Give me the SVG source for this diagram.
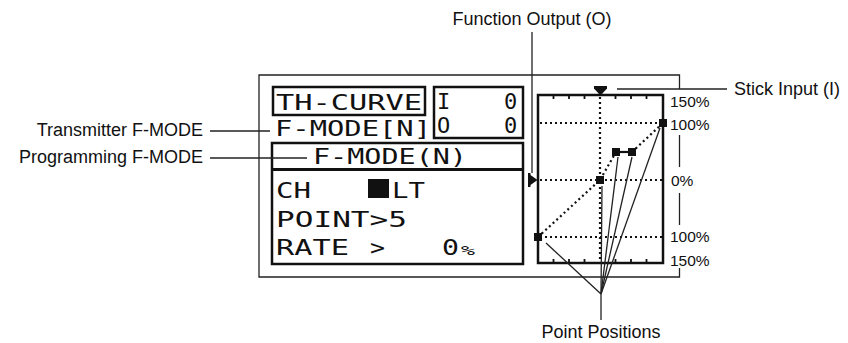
<svg xmlns="http://www.w3.org/2000/svg" width="848" height="343" viewBox="0 0 848 343">
<style>
.lbl{font-family:"Liberation Sans",Arial,sans-serif;font-size:18px;fill:#111}
.pct{font-family:"Liberation Sans",Arial,sans-serif;font-size:15.5px;fill:#111}
.lcd{font-family:"DejaVu Sans Mono","Liberation Mono",monospace;font-size:22px;fill:#111}
.box{fill:none;stroke:#111;stroke-width:2.5}
.thin{fill:none;stroke:#222;stroke-width:1.3}
.dot{fill:none;stroke:#111;stroke-width:2.2;stroke-dasharray:2 3}
.tick{stroke:#111;stroke-width:1.8}
.sq{fill:#111}
</style>
<rect width="848" height="343" fill="#fff"/>

<g id="frame">
<path class="thin" d="M679.5 89 V75 H259 V277 H679.5 V268"/>
<line class="thin" x1="679.5" y1="135" x2="679.5" y2="167"/>
<line class="thin" x1="679.5" y1="193" x2="679.5" y2="225"/>
</g>

<g id="th-curve">
<rect class="box" x="273" y="87" width="152" height="28"/>
<text class="lcd" x="276" y="110" textLength="146" lengthAdjust="spacingAndGlyphs">TH-CURVE</text>
</g>

<g id="io-box">
<rect class="box" x="434" y="87" width="89" height="51"/>
<text class="lcd" x="437" y="109">I</text>
<text class="lcd" x="504" y="109">0</text>
<text class="lcd" x="437" y="133">O</text>
<text class="lcd" x="504" y="133">0</text>
</g>

<g id="transmitter-fmode">
<text class="lcd" x="275" y="136" textLength="156" lengthAdjust="spacingAndGlyphs">F-MODE[N]</text>
</g>

<g id="programming-box">
<rect class="box" x="272" y="143" width="251" height="121"/>
<line x1="272" y1="169.5" x2="523" y2="169.5" stroke="#111" stroke-width="3"/>
<text class="lcd" x="313" y="164" textLength="154" lengthAdjust="spacingAndGlyphs">F-MODE(N)</text>
<text class="lcd" x="276" y="198" textLength="35" lengthAdjust="spacingAndGlyphs">CH</text>
<rect class="sq" x="368" y="179" width="21" height="19"/>
<text class="lcd" x="392" y="198" textLength="33" lengthAdjust="spacingAndGlyphs">LT</text>
<text class="lcd" x="276" y="227" textLength="131" lengthAdjust="spacingAndGlyphs">POINT&gt;5</text>
<text class="lcd" x="276" y="255" textLength="73" lengthAdjust="spacingAndGlyphs">RATE</text>
<text class="lcd" x="370" y="255" textLength="15" lengthAdjust="spacingAndGlyphs">&gt;</text>
<text class="lcd" x="442" y="255" textLength="17" lengthAdjust="spacingAndGlyphs">0</text>
<text class="lcd" x="461" y="255" style="font-size:12px" textLength="14" lengthAdjust="spacingAndGlyphs">%</text>
</g>

<g id="graph">
<line class="dot" x1="540" y1="123" x2="662" y2="123"/>
<line class="dot" x1="540" y1="180" x2="662" y2="180"/>
<line class="dot" x1="540" y1="237" x2="662" y2="237"/>
<line class="dot" x1="600" y1="97" x2="600" y2="262"/>
<rect class="box" x="538" y="95" width="125" height="168"/>
<g class="tick">
<line x1="553.5" y1="95" x2="553.5" y2="99"/><line x1="569" y1="95" x2="569" y2="99"/><line x1="584.5" y1="95" x2="584.5" y2="99"/>
<line x1="615.5" y1="95" x2="615.5" y2="99"/><line x1="631" y1="95" x2="631" y2="99"/><line x1="646.5" y1="95" x2="646.5" y2="99"/>
<line x1="553.5" y1="263" x2="553.5" y2="259"/><line x1="569" y1="263" x2="569" y2="259"/><line x1="584.5" y1="263" x2="584.5" y2="259"/>
<line x1="615.5" y1="263" x2="615.5" y2="259"/><line x1="631" y1="263" x2="631" y2="259"/><line x1="646.5" y1="263" x2="646.5" y2="259"/>
</g>
<path class="dot" d="M538 237 L600 180 L616 152"/>
<line x1="616" y1="152" x2="632" y2="152" stroke="#111" stroke-width="2.2"/>
<line class="dot" x1="632" y1="152" x2="663" y2="123"/>
<rect class="sq" x="534" y="233" width="8" height="8"/>
<rect class="sq" x="596" y="176" width="8" height="8"/>
<rect class="sq" x="612" y="148" width="8" height="8"/>
<rect class="sq" x="628" y="148" width="8" height="8"/>
<rect class="sq" x="659" y="119" width="8" height="8"/>
<path class="sq" d="M594 86 H607 V88.5 L601 95 H600 L594 88.5 Z"/>
<path class="sq" d="M528 173 H530.5 V175 L537.5 180 L530.5 185 V187 H528 Z"/>
<text class="pct" x="670" y="107">150%</text>
<text class="pct" x="670" y="130">100%</text>
<text class="pct" x="671" y="186">0%</text>
<text class="pct" x="670" y="242">100%</text>
<text class="pct" x="670" y="266">150%</text>
</g>

<g id="labels">
<text class="lbl" x="203" y="136" text-anchor="end">Transmitter F-MODE</text>
<text class="lbl" x="203" y="163" text-anchor="end">Programming F-MODE</text>
<text class="lbl" x="532" y="25" text-anchor="middle">Function Output (O)</text>
<text class="lbl" x="734" y="95">Stick Input (I)</text>
<text class="lbl" x="601" y="338" text-anchor="middle">Point Positions</text>
</g>

<g id="connectors" class="thin">
<line x1="210" y1="131" x2="270" y2="131"/>
<line x1="210" y1="158" x2="307" y2="158"/>
<line x1="532" y1="32" x2="532" y2="173"/>
<line x1="617" y1="89" x2="727" y2="89"/>
<line x1="601" y1="294" x2="601" y2="320"/>
<line x1="601" y1="294" x2="546" y2="243"/>
<line x1="601" y1="294" x2="602" y2="186"/>
<line x1="601" y1="294" x2="618" y2="157"/>
<line x1="601" y1="294" x2="632" y2="157"/>
<line x1="601" y1="294" x2="660" y2="128"/>
</g>
</svg>
